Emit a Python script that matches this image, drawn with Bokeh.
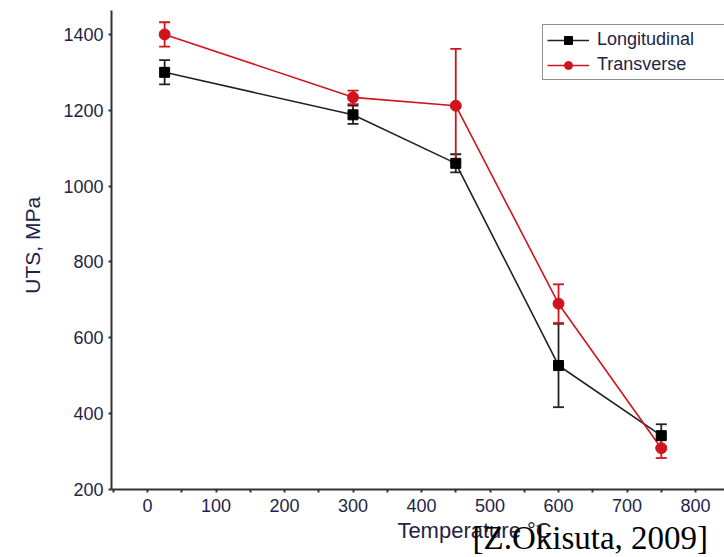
import math
from bokeh.plotting import figure
from bokeh.models import (Range1d, FixedTicker, ColumnDataSource, Whisker, TeeHead,
                          Legend, LegendItem, Label)
from bokeh.embed import file_html
from bokeh.resources import INLINE

# ---- data ----
temps = [25, 300, 450, 600, 750]
long_uts = [1300, 1188, 1060, 527, 342]
long_err = [32, 24, 24, 110, 30]
trans_uts = [1400, 1234, 1212, 690, 309]
trans_err = [32, 18, 150, 51, 26]

x_ticks = [0, 100, 200, 300, 400, 500, 600, 700, 800]
x_minor = [-50, 50, 150, 250, 350, 450, 550, 650, 750, 850]
y_ticks = [200, 400, 600, 800, 1000, 1200, 1400]

BLACK = "#222222"
RED = "#d0141e"
TXT = "#1e2448"

long_src = ColumnDataSource(dict(x=temps, y=long_uts,
                                 lo=[v - e for v, e in zip(long_uts, long_err)],
                                 hi=[v + e for v, e in zip(long_uts, long_err)]))
trans_src = ColumnDataSource(dict(x=temps, y=trans_uts,
                                  lo=[v - e for v, e in zip(trans_uts, trans_err)],
                                  hi=[v + e for v, e in zip(trans_uts, trans_err)]))

X0, X1 = -52.6, 842.3     # visible axis extent
Y0, Y1 = 200, 1463

p = figure(width=724, height=557, output_backend="svg", toolbar_location=None,
           x_range=Range1d(-214.6, 842.3), y_range=Range1d(20.7, 1489.4),
           min_border_left=0, min_border_right=0, min_border_top=0, min_border_bottom=0)
p.outline_line_color = None
p.xgrid.visible = False
p.ygrid.visible = False
p.background_fill_color = "white"
p.border_fill_color = "white"

# axes drawn at fixed positions inside the frame
p.xaxis.fixed_location = Y0
p.yaxis.fixed_location = X0
p.xaxis.bounds = (X0, X1)
p.yaxis.bounds = (Y0, Y1)
p.xaxis.ticker = FixedTicker(ticks=x_ticks, minor_ticks=x_minor)
p.yaxis.ticker = FixedTicker(ticks=y_ticks)
for ax in (p.xaxis, p.yaxis):
    ax.axis_line_color = "#333333"
    ax.axis_line_width = 2
    ax.major_tick_line_color = "#333333"
    ax.major_tick_line_width = 2
    ax.major_tick_in = 0
    ax.major_tick_out = 3
    ax.minor_tick_line_color = "#333333"
    ax.minor_tick_line_width = 2
    ax.minor_tick_in = 0
    ax.minor_tick_out = 3
    ax.major_label_text_font = "Liberation Sans"
    ax.major_label_text_font_size = "18px"
    ax.major_label_text_color = TXT
    ax.axis_label = None
p.yaxis.minor_tick_out = 0
p.xaxis.major_label_standoff = 6
p.yaxis.major_label_standoff = 5

# error bars
for src, col in ((long_src, BLACK), (trans_src, RED)):
    w = Whisker(source=src, base="x", lower="lo", upper="hi",
                line_color=col, line_width=1.8,
                upper_head=TeeHead(size=11, line_color=col, line_width=1.8),
                lower_head=TeeHead(size=11, line_color=col, line_width=1.8))
    p.add_layout(w)

l1 = p.line("x", "y", source=long_src, line_color=BLACK, line_width=1.6)
l2 = p.line("x", "y", source=trans_src, line_color=RED, line_width=1.6)
m1 = p.scatter("x", "y", source=long_src, marker="square", size=10,
               fill_color="black", line_color="black")
m2 = p.scatter("x", "y", source=trans_src, marker="circle", size=11,
               fill_color=RED, line_color=RED)

legend = Legend(items=[LegendItem(label="Longitudinal", renderers=[l1, m1]),
                       LegendItem(label="Transverse", renderers=[l2, m2])],
                location=(542, 477), orientation="vertical",
                label_text_font="Liberation Sans", label_text_font_size="18px",
                label_text_color=TXT, glyph_width=42, glyph_height=20,
                label_height=20, label_width=125, spacing=4, padding=4, margin=0,
                label_standoff=8, border_line_color="#222222", border_line_width=1.5,
                background_fill_alpha=1.0)
p.add_layout(legend)

# axis titles
p.add_layout(Label(x=-168, y=844, text="UTS, MPa", angle=math.pi / 2,
                   text_align="center", text_baseline="alphabetic",
                   text_font="Liberation Sans", text_font_size="21px", text_color=TXT))
p.add_layout(Label(x=477.4, y=92, text="Temperature °C", text_align="center",
                   text_baseline="alphabetic", text_font="Liberation Sans",
                   text_font_size="22px", text_color=TXT))
# citation overlay
p.add_layout(Label(x=474.5, y=73, text="[Z.Okisuta, 2009]", text_align="left",
                   text_baseline="alphabetic", text_font="Liberation Serif",
                   text_font_size="33px", text_color="black"))

open("out.html", "w").write(file_html(p, INLINE))
